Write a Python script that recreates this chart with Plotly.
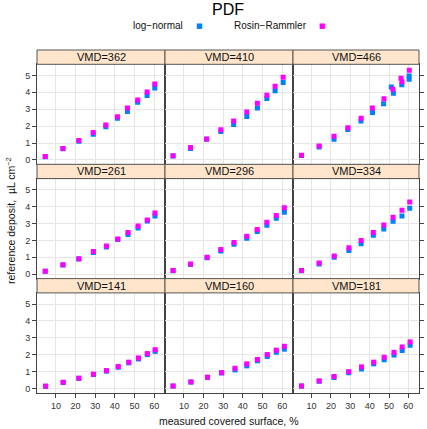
import plotly.graph_objects as go

W, H = 427, 429

# ---------------- data ----------------
vmd_labels = ["VMD=362", "VMD=410", "VMD=466",
              "VMD=261", "VMD=296", "VMD=334",
              "VMD=141", "VMD=160", "VMD=181"]
x_ticks = [10, 20, 30, 40, 50, 60]
y_ticks = [0, 1, 2, 3, 4, 5]

x_362 = [4.6, 13.6, 21.7, 29.0, 35.4, 41.3, 46.4, 51.6, 56.4, 60.3]
ln_362 = [0.19, 0.66, 1.10, 1.52, 1.97, 2.47, 2.86, 3.41, 3.81, 4.26]
rr_362 = [0.20, 0.67, 1.15, 1.62, 2.07, 2.55, 3.08, 3.55, 4.02, 4.50]

x_410 = [4.5, 13.4, 21.6, 28.8, 35.3, 42.0, 47.4, 52.2, 56.4, 60.5]
ln_410 = [0.23, 0.67, 1.22, 1.68, 2.09, 2.57, 3.08, 3.63, 4.10, 4.58]
rr_410 = [0.24, 0.73, 1.24, 1.78, 2.31, 2.84, 3.35, 3.83, 4.36, 4.89]

ln_x_466 = [4.8, 13.9, 21.6, 28.7, 35.5, 41.5, 47.2, 51.2, 52.3, 56.6, 60.4, 60.4]
ln_466 = [0.26, 0.77, 1.22, 1.80, 2.30, 2.80, 3.33, 4.32, 3.95, 4.45, 4.97, 4.78]
rr_x_466 = [4.8, 13.9, 21.6, 28.8, 35.6, 41.4, 47.4, 52.0, 56.2, 56.7, 60.5]
rr_466 = [0.28, 0.83, 1.40, 1.90, 2.47, 3.07, 3.62, 4.18, 4.83, 4.62, 5.31]

x_261 = [4.6, 13.6, 21.7, 29.1, 35.7, 41.5, 46.7, 51.8, 56.5, 60.4]
ln_261 = [0.17, 0.54, 0.90, 1.28, 1.61, 2.05, 2.35, 2.73, 3.15, 3.45]
rr_261 = [0.18, 0.56, 0.92, 1.34, 1.67, 2.09, 2.47, 2.85, 3.21, 3.63]

x_296 = [4.5, 13.4, 21.8, 28.8, 35.5, 42.0, 47.3, 52.2, 57.0, 61.1]
ln_296 = [0.21, 0.58, 0.98, 1.38, 1.77, 2.13, 2.53, 2.90, 3.31, 3.67]
rr_296 = [0.22, 0.60, 1.00, 1.46, 1.87, 2.25, 2.65, 3.07, 3.47, 3.93]

x_334 = [4.8, 13.9, 21.7, 29.3, 35.6, 41.9, 47.3, 52.1, 56.7, 60.7]
ln_334 = [0.21, 0.60, 1.00, 1.41, 1.80, 2.30, 2.68, 3.13, 3.45, 3.91]
rr_334 = [0.22, 0.66, 1.08, 1.56, 1.99, 2.47, 2.91, 3.37, 3.79, 4.27]

x_141 = [4.8, 13.7, 21.7, 29.1, 35.7, 41.7, 47.1, 52.0, 56.5, 60.5]
ln_141 = [0.13, 0.36, 0.60, 0.83, 1.03, 1.26, 1.52, 1.75, 2.01, 2.20]
rr_141 = [0.14, 0.37, 0.61, 0.85, 1.06, 1.30, 1.56, 1.81, 2.07, 2.30]

x_160 = [4.5, 13.6, 22.0, 29.2, 36.0, 42.0, 47.4, 52.4, 57.0, 61.1]
ln_160 = [0.14, 0.38, 0.66, 0.92, 1.10, 1.34, 1.64, 1.90, 2.15, 2.33]
rr_160 = [0.15, 0.39, 0.67, 0.94, 1.20, 1.46, 1.72, 2.01, 2.27, 2.50]

x_181 = [4.8, 13.9, 21.6, 29.2, 35.8, 42.1, 47.5, 52.6, 56.8, 60.9]
ln_181 = [0.14, 0.43, 0.65, 0.93, 1.16, 1.46, 1.70, 1.98, 2.25, 2.56]
rr_181 = [0.15, 0.45, 0.71, 1.00, 1.28, 1.56, 1.85, 2.14, 2.46, 2.76]

panels = [
    (x_362, ln_362, x_362, rr_362),
    (x_410, ln_410, x_410, rr_410),
    (ln_x_466, ln_466, rr_x_466, rr_466),
    (x_261, ln_261, x_261, rr_261),
    (x_296, ln_296, x_296, rr_296),
    (x_334, ln_334, x_334, rr_334),
    (x_141, ln_141, x_141, rr_141),
    (x_160, ln_160, x_160, rr_160),
    (x_181, ln_181, x_181, rr_181),
]

series_names = ["log\u2212normal", "Rosin\u2212Rammler"]
col_ln = "#0080ff"
col_rr = "#ff00ff"

# ---------------- layout geometry (pixels) ----------------
col_px = [(37, 165), (165, 293), (293, 419)]
strip_h = 14.3
row_px = [(64.3, 164.3), (178.6, 278.6), (292.9, 392.9)]  # (top, bottom)
x_range = [0.4, 65.5]
y_range = [-0.26, 5.66]

FONT = "Liberation Sans, Arial, sans-serif"
AX = "#444444"
GRID = "#e6e6e6"
TXT = "#333333"


def fx(p):
    return p / W


def fy(p):
    return 1 - p / H


fig = go.Figure()
layout = {}
shapes = []
annotations = []

for k in range(9):
    r, c = divmod(k, 3)
    idx = k + 1
    xs = "" if idx == 1 else str(idx)
    xl, xr = col_px[c]
    yt, yb = row_px[r]
    xa = dict(
        domain=[fx(xl), fx(xr)], range=x_range, anchor="y" + xs,
        tickvals=x_ticks, showgrid=True, gridcolor=GRID, gridwidth=1,
        zeroline=False, showline=True, mirror=True, linecolor=AX, linewidth=1,
        ticks="outside" if r == 2 else "", ticklen=4, tickcolor=AX,
        showticklabels=(r == 2), tickfont=dict(size=9, color=TXT, family=FONT),
    )
    ya = dict(
        domain=[fy(yb), fy(yt)], range=y_range, anchor="x" + xs,
        tickvals=y_ticks, showgrid=True, gridcolor=GRID, gridwidth=1,
        zeroline=False, showline=True, mirror=True, linecolor=AX, linewidth=1,
        ticks="outside" if c == 0 else "", ticklen=4, tickcolor=AX,
        showticklabels=(c == 0), tickfont=dict(size=9, color=TXT, family=FONT),
    )
    layout["xaxis" + xs] = xa
    layout["yaxis" + xs] = ya

    px_ln, py_ln, px_rr, py_rr = panels[k]
    fig.add_trace(go.Scatter(
        x=px_ln, y=py_ln, mode="markers", xaxis="x" + xs, yaxis="y" + xs,
        marker=dict(symbol="square", size=5, color=col_ln),
        name=series_names[0], showlegend=False, hoverinfo="skip"))
    fig.add_trace(go.Scatter(
        x=px_rr, y=py_rr, mode="markers", xaxis="x" + xs, yaxis="y" + xs,
        marker=dict(symbol="square", size=5, color=col_rr),
        name=series_names[1], showlegend=False, hoverinfo="skip"))

    # strip
    shapes.append(dict(type="rect", xref="paper", yref="paper",
                       x0=fx(xl), x1=fx(xr), y0=fy(yt), y1=fy(yt - strip_h),
                       fillcolor="#ffe5cc", line=dict(color="#555", width=1),
                       layer="above"))
    annotations.append(dict(text=vmd_labels[k], xref="paper", yref="paper",
                            x=fx((xl + xr) / 2), y=fy(yt - strip_h / 2),
                            showarrow=False, xanchor="center", yanchor="middle",
                            font=dict(size=11, color="#111", family=FONT)))

# top tick overlays (row 1) and right tick overlays (column 3)
for j, idx in enumerate([1, 2, 3]):
    base = "" if idx == 1 else str(idx)
    oid = str(10 + j)
    layout["xaxis" + oid] = dict(
        overlaying="x" + base, anchor="y" + base, side="top", range=x_range,
        tickvals=x_ticks, ticks="outside", ticklen=4, tickcolor=AX,
        showticklabels=False, showgrid=False, zeroline=False, showline=False)
    fig.add_trace(go.Scatter(x=[None], y=[None], xaxis="x" + oid, yaxis="y" + base,
                             showlegend=False, hoverinfo="skip"))
for j, idx in enumerate([3, 6, 9]):
    base = str(idx)
    oid = str(13 + j)
    layout["yaxis" + oid] = dict(
        overlaying="y" + base, anchor="x" + base, side="right", range=y_range,
        tickvals=y_ticks, ticks="outside", ticklen=4, tickcolor=AX,
        showticklabels=False, showgrid=False, zeroline=False, showline=False)
    fig.add_trace(go.Scatter(x=[None], y=[None], xaxis="x" + base, yaxis="y" + oid,
                             showlegend=False, hoverinfo="skip"))

# title, legend keys, axis titles
annotations.append(dict(text="PDF", xref="paper", yref="paper", x=fx(228), y=fy(10),
                        showarrow=False, xanchor="center", yanchor="middle",
                        font=dict(size=16, color="#000", family=FONT)))
annotations.append(dict(text=series_names[0], xref="paper", yref="paper",
                        x=fx(157.5), y=fy(26), showarrow=False, xanchor="center",
                        yanchor="middle", font=dict(size=10, color="#111", family=FONT)))
annotations.append(dict(text="\u25A0", xref="paper", yref="paper",
                        x=fx(199.5), y=fy(26), showarrow=False, xanchor="center",
                        yanchor="middle", font=dict(size=7, color=col_ln, family="DejaVu Sans")))
annotations.append(dict(text=series_names[1], xref="paper", yref="paper",
                        x=fx(270), y=fy(26), showarrow=False, xanchor="center",
                        yanchor="middle", font=dict(size=10, color="#111", family=FONT)))
annotations.append(dict(text="\u25A0", xref="paper", yref="paper",
                        x=fx(322.5), y=fy(26), showarrow=False, xanchor="center",
                        yanchor="middle", font=dict(size=7, color=col_rr, family="DejaVu Sans")))
annotations.append(dict(text="measured covered surface, %", xref="paper", yref="paper",
                        x=fx(228), y=fy(421), showarrow=False, xanchor="center",
                        yanchor="middle", font=dict(size=10.5, color="#111", family=FONT)))
annotations.append(dict(text="reference deposit,  \u00B5L cm<sup>\u22122</sup>",
                        xref="paper", yref="paper", x=fx(10), y=fy(221), textangle=-90,
                        showarrow=False, xanchor="center", yanchor="middle",
                        font=dict(size=10.5, color="#111", family=FONT)))

fig.update_layout(
    width=W, height=H, margin=dict(l=0, r=0, t=0, b=0),
    paper_bgcolor="white", plot_bgcolor="white",
    showlegend=False, shapes=shapes, annotations=annotations,
    font=dict(family=FONT), **layout)

fig.write_html("out.html")
